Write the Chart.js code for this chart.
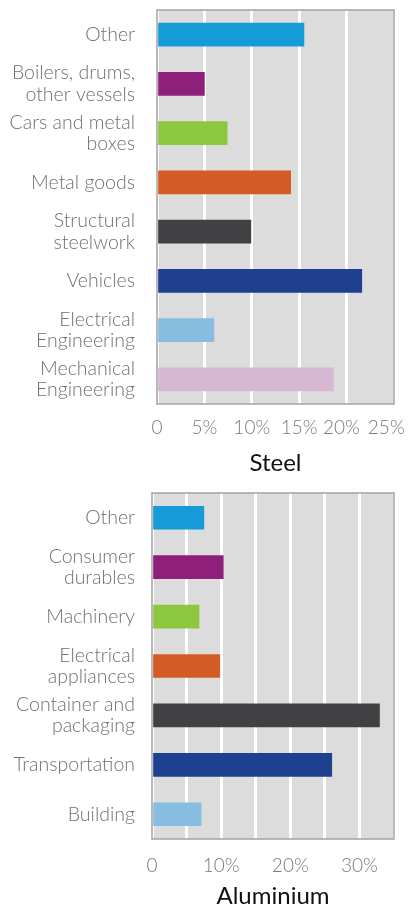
<!DOCTYPE html>
<html>
<head>
<meta charset="utf-8">
<script src="https://cdn.jsdelivr.net/npm/chart.js@4"></script>
<style>
  html, body { margin: 0; padding: 0; background: #fff; }
  .box { position: absolute; left: 0; width: 411px; }
  #steel-box { top: 0; height: 480px; }
  #alu-box { top: 480px; height: 428px; }
</style>
</head>
<body>
<div class="box" id="steel-box"><canvas id="steel-chart" width="411" height="480"></canvas></div>
<div class="box" id="alu-box"><canvas id="alu-chart" width="411" height="428"></canvas></div>
<script>
// 钢材用途（%）
const steelCategories = ['Other', ['Boilers, drums,', 'other vessels'], ['Cars and metal', 'boxes'], 'Metal goods',
    ['Structural', 'steelwork'], 'Vehicles', ['Electrical', 'Engineering'], ['Mechanical', 'Engineering']];
const steelShare = [15.5, 5.0, 7.4, 14.1, 9.9, 21.6, 6.0, 18.6];
const steelTicks = [0, 5, 10, 15, 20, 25];

// 铝材用途（%）
const aluCategories = ['Other', ['Consumer', 'durables'], 'Machinery', ['Electrical', 'appliances'],
    ['Container and', 'packaging'], 'Transportation', 'Building'];
const aluShare = [7.5, 10.3, 6.8, 9.8, 32.9, 26.0, 7.1];
const aluTicks = [0, 10, 20, 30];

const steelColors = ['#159bd7', '#8e1f7b', '#8dc63f', '#d35b26', '#414042', '#1f3f8f', '#88bde2', '#d8b7d3'];
const aluColors = ['#159bd7', '#8e1f7b', '#8dc63f', '#d35b26', '#414042', '#1f3f8f', '#88bde2'];

const FONT = 'Lato, "Open Sans", sans-serif';

// 灰色底和外框
const plotFrame = {
    id: 'plotFrame',
    beforeDraw(chart) {
        const a = chart.chartArea, c = chart.ctx;
        c.save();
        c.fillStyle = '#dcdcdc';
        c.fillRect(a.left, a.top, a.right - a.left, a.bottom - a.top);
        c.restore();
    },
    beforeDatasetsDraw(chart) {
        const a = chart.chartArea, c = chart.ctx;
        c.save();
        c.strokeStyle = '#a3a3a3';
        c.lineWidth = 1.5;
        c.strokeRect(a.left, a.top, a.right - a.left, a.bottom - a.top);
        c.restore();
    }
};

function createChart(canvasId, opts) {
    return new Chart(document.getElementById(canvasId), {
        type: 'bar',
        data: {
            labels: opts.categories,
            datasets: [{
                data: opts.values,
                backgroundColor: opts.colors,
                borderWidth: 0,
                barThickness: 23
            }]
        },
        options: {
            indexAxis: 'y',
            responsive: false,
            animation: false,
            layout: { padding: { top: opts.padTop, right: 17, left: 0, bottom: 0 } },
            plugins: { legend: { display: false }, tooltip: { enabled: false } },
            scales: {
                x: {
                    min: 0,
                    max: opts.max,
                    afterBuildTicks(scale) {
                        scale.ticks = opts.gridSteps.map(v => ({ value: v }));
                    },
                    afterFit(scale) {
                        scale.height = opts.xHeight;
                        scale.paddingLeft = 0;
                        scale.paddingRight = 0;
                    },
                    grid: { color: '#ffffff', lineWidth: 3, drawTicks: false },
                    border: { display: false },
                    ticks: {
                        autoSkip: false,
                        maxRotation: 0,
                        padding: opts.tickPad,
                        color: '#7a7a7a',
                        font: { family: FONT, size: 19, weight: '300' },
                        callback(v) {
                            if (!opts.tickLabels.includes(v)) return '';
                            if (v === 0) return '0';
                            // 右端两个标签稍微往左挪，免得出界
                            return v + '%' + ' '.repeat(opts.nudge[v] || 0);
                        }
                    },
                    title: {
                        display: true,
                        text: opts.title,
                        color: '#111',
                        font: { family: FONT, size: 24, lineHeight: 1 },
                        padding: { top: 0, bottom: opts.titlePad }
                    }
                },
                y: {
                    afterFit(scale) {
                        scale.width = opts.yWidth;
                        scale.paddingTop = 0;
                        scale.paddingBottom = 0;
                    },
                    grid: { display: false, drawTicks: false },
                    border: { display: false },
                    ticks: {
                        padding: opts.yPad,
                        color: '#707070',
                        font: { family: FONT, size: 19.5, weight: '300', lineHeight: 1.1 }
                    }
                }
            }
        },
        plugins: [plotFrame]
    });
}

document.addEventListener('DOMContentLoaded', function() {
    createChart('steel-chart', {
        categories: steelCategories, values: steelShare, colors: steelColors,
        max: 25, gridSteps: steelTicks, tickLabels: steelTicks, nudge: { 20: 2, 25: 3 },
        title: 'Steel', padTop: 10, xHeight: 76, tickPad: 12, titlePad: 5,
        yWidth: 157, yPad: 22
    });
    createChart('alu-chart', {
        categories: aluCategories, values: aluShare, colors: aluColors,
        max: 35, gridSteps: [0, 5, 10, 15, 20, 25, 30, 35], tickLabels: aluTicks, nudge: {},
        title: 'Aluminium', padTop: 13, xHeight: 69, tickPad: 15, titlePad: 0,
        yWidth: 152, yPad: 17
    });
});
</script>
</body>
</html>
